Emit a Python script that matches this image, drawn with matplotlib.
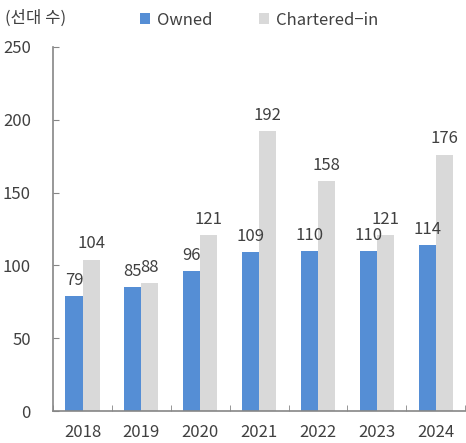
import numpy as np
import matplotlib
matplotlib.use('Agg')
import matplotlib.pyplot as plt

plt.rcParams['font.family'] = ['Noto Sans CJK KR', 'DejaVu Sans']
plt.rcParams['font.weight'] = 'light'

# data
years = ['2018', '2019', '2020', '2021', '2022', '2023', '2024']
owned = [79, 85, 96, 109, 110, 110, 114]
chartered = [104, 88, 121, 192, 158, 121, 176]

blue = '#558ed5'
grey = '#d9d9d9'
txt = '#404040'
axis_col = '#868686'

fig = plt.figure(figsize=(4.66, 4.43), dpi=100)
ax = fig.add_axes([0.114, 0.072, 0.884, 0.822])

x = np.arange(len(years))
w = 0.29
b1 = ax.bar(x - w / 2, owned, w, color=blue, label='Owned')
b2 = ax.bar(x + w / 2, chartered, w, color=grey, label='Chartered\u2212in')

for rect, v in zip(b1, owned):
    ax.text(rect.get_x() + rect.get_width() / 2, v + 5, str(v),
            ha='center', va='bottom', fontsize=12, color=txt)
for rect, v in zip(b2, chartered):
    ax.text(rect.get_x() + rect.get_width() / 2, v + 5, str(v),
            ha='center', va='bottom', fontsize=12, color=txt)

ax.set_xlim(-0.5, len(years) - 0.5)
ax.set_ylim(0, 250)
ax.set_yticks(np.arange(0, 251, 50))
ax.set_xticks(x)
ax.set_xticklabels(years)
ax.set_xticks(np.arange(-0.5, len(years), 1), minor=True)

ax.tick_params(axis='y', direction='in', length=4, color=axis_col,
               labelsize=12, labelcolor=txt, pad=16)
ax.tick_params(axis='x', which='major', length=0, labelsize=12,
               labelcolor=txt, pad=9)
ax.tick_params(axis='x', which='minor', direction='in', length=4, color=axis_col)

for s in ['top', 'right']:
    ax.spines[s].set_visible(False)
for s in ['left', 'bottom']:
    ax.spines[s].set_color(axis_col)
    ax.spines[s].set_linewidth(1.2)

fig.text(0.01, 0.958, '(선대 수)', fontsize=12, color=txt, va='center')
ax.legend(loc='center', bbox_to_anchor=(0.5, 1.074), ncol=2, frameon=False,
          fontsize=12, handlelength=0.6, handleheight=0.6, columnspacing=2.8,
          handletextpad=0.4, labelcolor=txt)

fig.savefig('out.png', dpi=100)
